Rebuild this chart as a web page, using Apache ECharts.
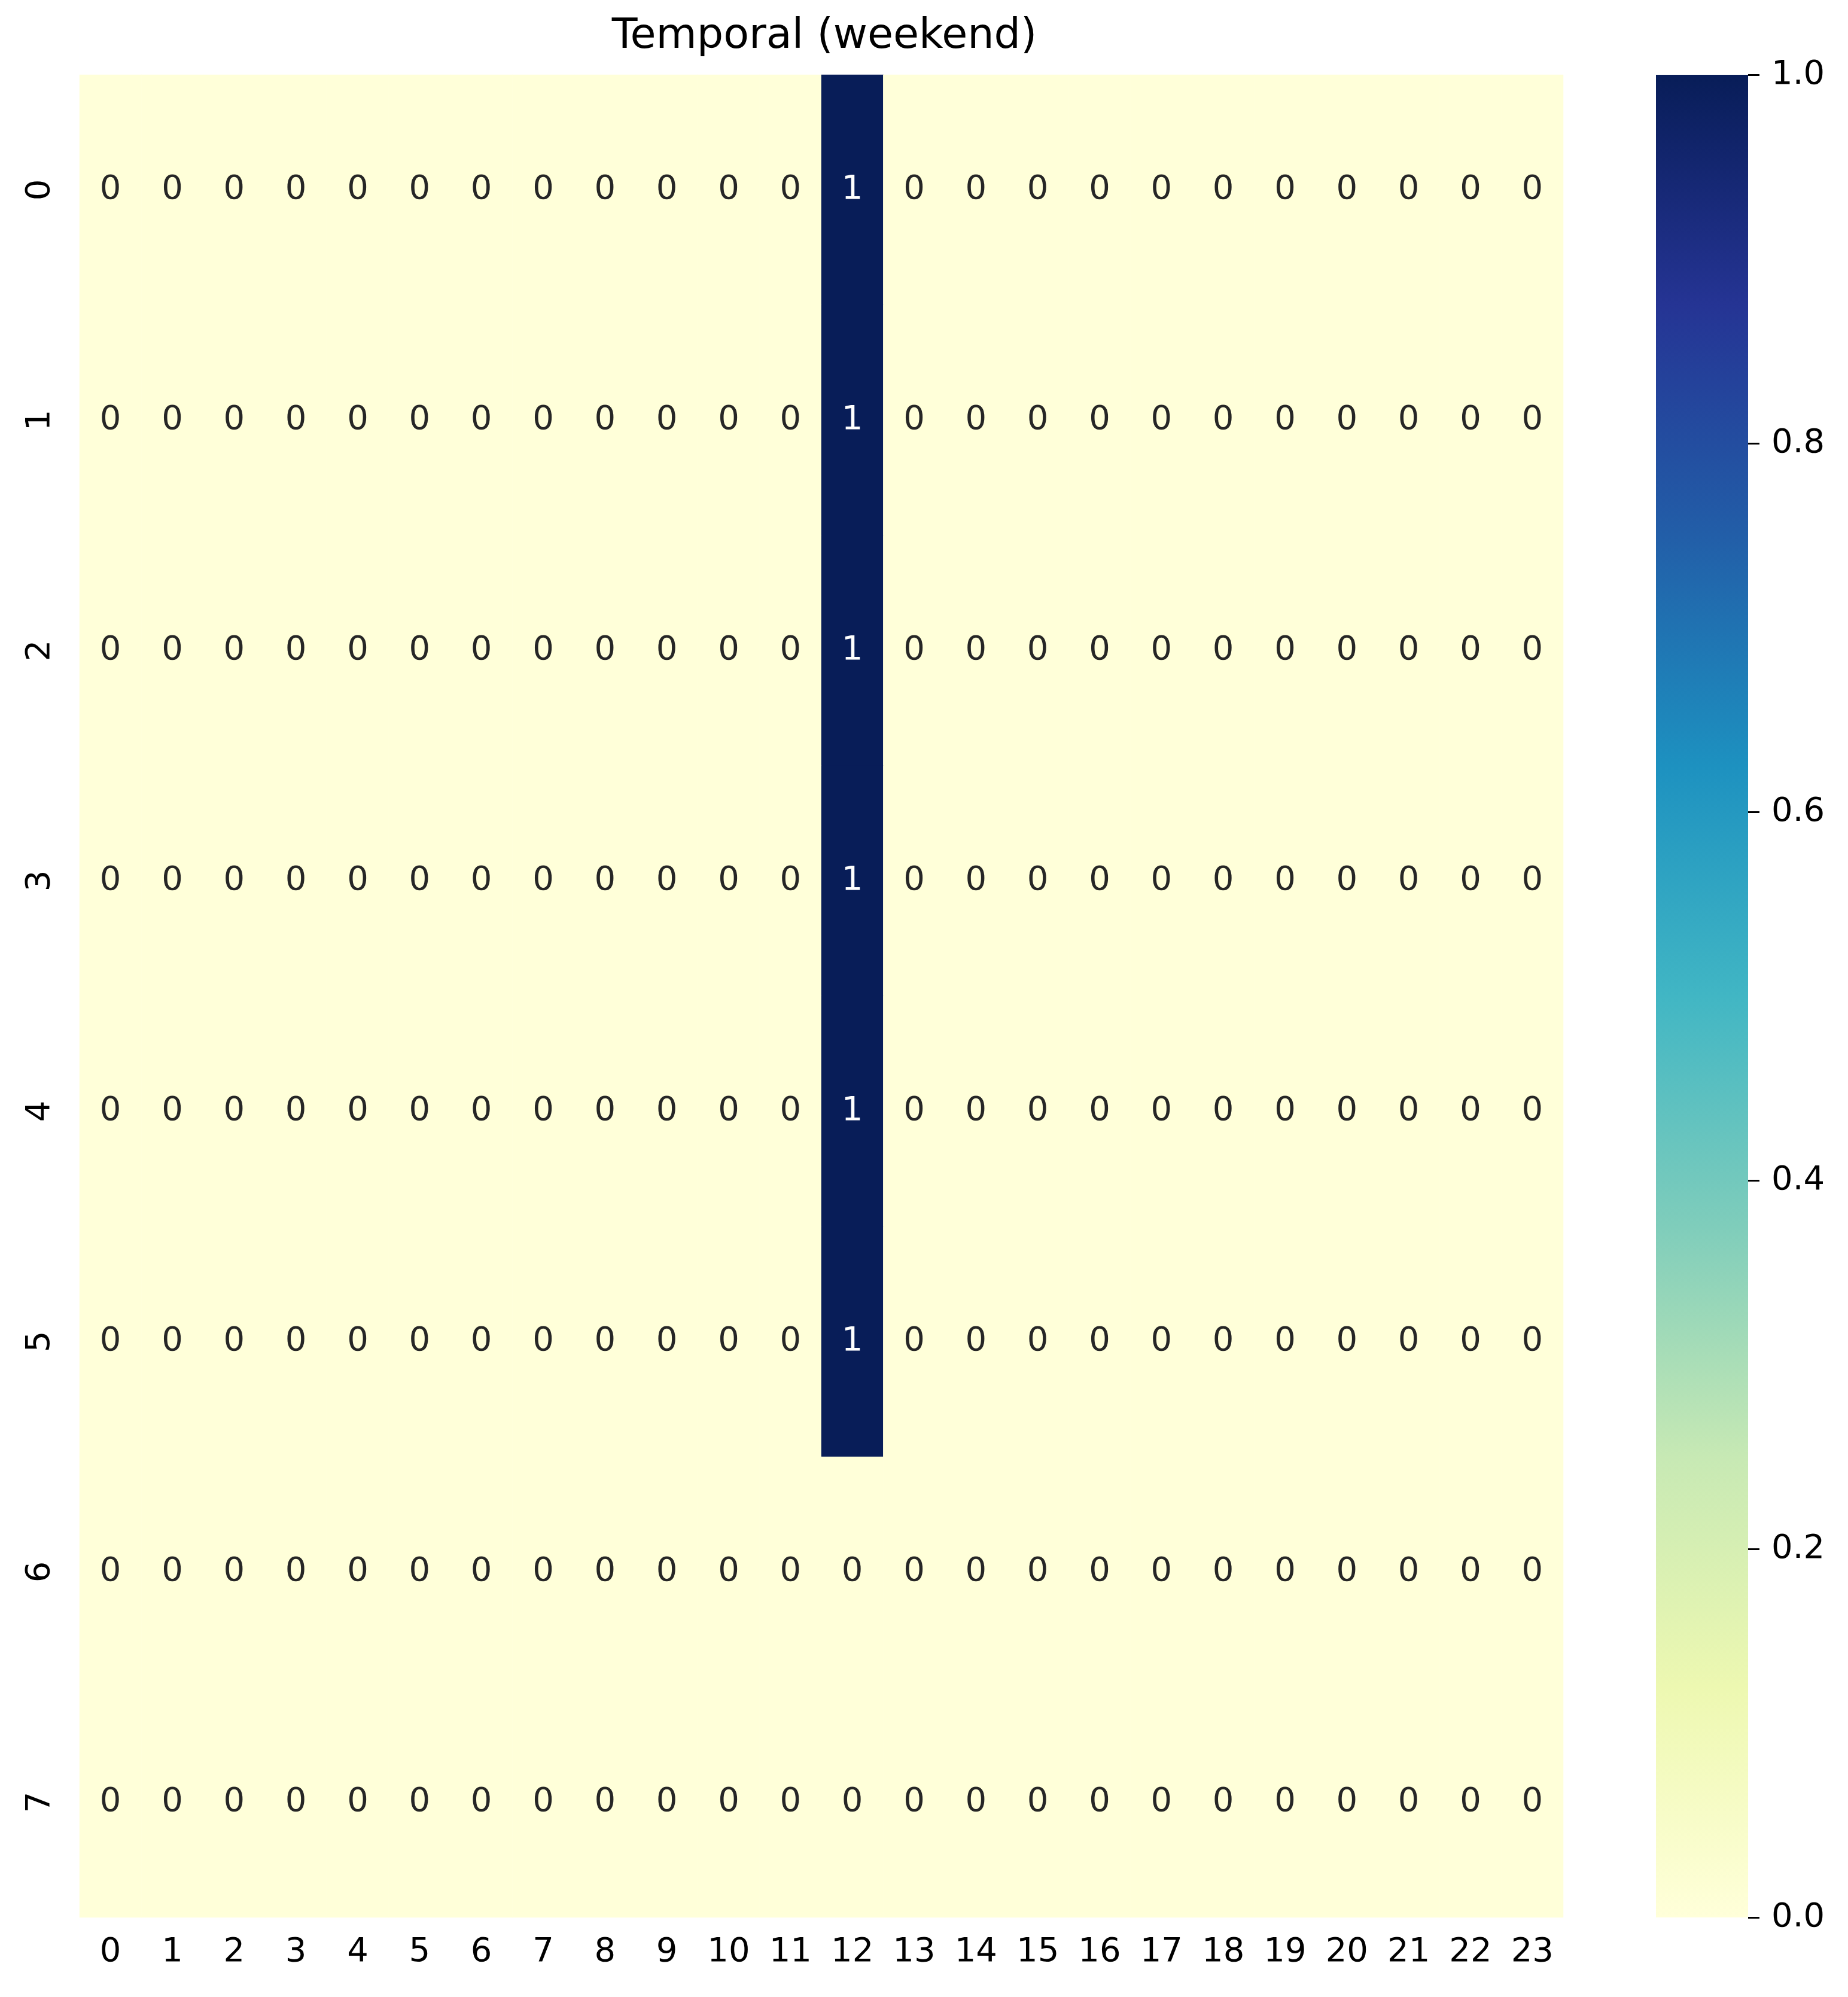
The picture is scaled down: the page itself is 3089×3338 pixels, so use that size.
<!DOCTYPE html>
<html>
<head>
<meta charset="utf-8">
<script src="https://cdn.jsdelivr.net/npm/echarts@6/dist/echarts.min.js"></script>
<style>
  html, body { margin: 0; padding: 0; background: #fff; }
  #chart { width: 3089px; height: 3338px; }
</style>
</head>
<body>
<div id="chart"></div>
<script>
// x: hour of day, y: row index
var hours = ["0","1","2","3","4","5","6","7","8","9","10","11","12","13","14","15","16","17","18","19","20","21","22","23"];
var rows = ["0","1","2","3","4","5","6","7"];

// one array per row (24 hourly values)
var row0 = [0,0,0,0,0,0,0,0,0,0,0,0,1,0,0,0,0,0,0,0,0,0,0,0];
var row1 = [0,0,0,0,0,0,0,0,0,0,0,0,1,0,0,0,0,0,0,0,0,0,0,0];
var row2 = [0,0,0,0,0,0,0,0,0,0,0,0,1,0,0,0,0,0,0,0,0,0,0,0];
var row3 = [0,0,0,0,0,0,0,0,0,0,0,0,1,0,0,0,0,0,0,0,0,0,0,0];
var row4 = [0,0,0,0,0,0,0,0,0,0,0,0,1,0,0,0,0,0,0,0,0,0,0,0];
var row5 = [0,0,0,0,0,0,0,0,0,0,0,0,1,0,0,0,0,0,0,0,0,0,0,0];
var row6 = [0,0,0,0,0,0,0,0,0,0,0,0,0,0,0,0,0,0,0,0,0,0,0,0];
var row7 = [0,0,0,0,0,0,0,0,0,0,0,0,0,0,0,0,0,0,0,0,0,0,0,0];
var matrix = [row0, row1, row2, row3, row4, row5, row6, row7];

var colorbarTicks = [0, 0.2, 0.4, 0.6, 0.8, 1.0];

// YlGnBu
var ylgnbu = ["#ffffd9","#edf8b1","#c7e9b4","#7fcdbb","#41b6c4","#1d91c0","#225ea8","#253494","#081d58"];

var font = "DejaVu Sans";

var cells = [];
matrix.forEach(function (r, yi) {
  r.forEach(function (v, xi) {
    cells.push({
      value: [xi, yi, v],
      label: { color: v > 0.5 ? "#ffffff" : "#262626" }
    });
  });
});

// gradient for colorbar: top = max colour
var stops = ylgnbu.slice().reverse().map(function (c, i) {
  return { offset: i / (ylgnbu.length - 1), color: c };
});

var chart = echarts.init(document.getElementById("chart"));
chart.setOption({
  animation: false,
  backgroundColor: "#ffffff",
  title: {
    text: "Temporal (weekend)",
    left: 1373,
    top: 22,
    textAlign: "center",
    textStyle: { fontFamily: font, fontSize: 70, fontWeight: "normal", color: "#000" }
  },
  grid: [
    { left: 133, top: 125, width: 2480, height: 3080 },
    { left: 2768, top: 125, width: 154, height: 3080 }
  ],
  xAxis: [
    {
      type: "category",
      gridIndex: 0,
      data: hours,
      position: "bottom",
      splitArea: { show: false },
      axisLine: { show: false },
      axisTick: { alignWithLabel: true, length: 19, lineStyle: { color: "#000", width: 3 } },
      axisLabel: { fontFamily: font, fontSize: 56, color: "#000", margin: 30, interval: 0 }
    },
    {
      type: "category",
      gridIndex: 1,
      data: [""],
      show: false
    }
  ],
  yAxis: [
    {
      type: "category",
      gridIndex: 0,
      data: rows,
      inverse: true,
      axisLine: { show: false },
      axisTick: { alignWithLabel: true, length: 19, lineStyle: { color: "#000", width: 3 } },
      axisLabel: { fontFamily: font, fontSize: 56, color: "#000", margin: 38, rotate: 90, interval: 0 }
    },
    {
      type: "value",
      gridIndex: 1,
      position: "right",
      min: 0,
      max: 1,
      interval: 0.2,
      splitLine: { show: false },
      axisLine: { show: false },
      axisTick: { show: true, length: 19, lineStyle: { color: "#000", width: 3 } },
      axisLabel: {
        fontFamily: font, fontSize: 56, color: "#000", margin: 39,
        formatter: function (v) { return v.toFixed(1); }
      }
    }
  ],
  visualMap: {
    show: false,
    type: "continuous",
    seriesIndex: 0,
    min: 0,
    max: 1,
    inRange: { color: ylgnbu }
  },
  series: [
    {
      type: "heatmap",
      xAxisIndex: 0,
      yAxisIndex: 0,
      data: cells,
      label: { show: true, fontFamily: font, fontSize: 56, formatter: function (p) { return p.value[2]; } },
      itemStyle: { borderWidth: 0 },
      emphasis: { disabled: true }
    },
    {
      type: "bar",
      xAxisIndex: 1,
      yAxisIndex: 1,
      data: [colorbarTicks[colorbarTicks.length - 1]],
      barWidth: "100%",
      silent: true,
      itemStyle: {
        color: new echarts.graphic.LinearGradient(0, 0, 0, 1, stops)
      }
    }
  ]
});
</script>
</body>
</html>
